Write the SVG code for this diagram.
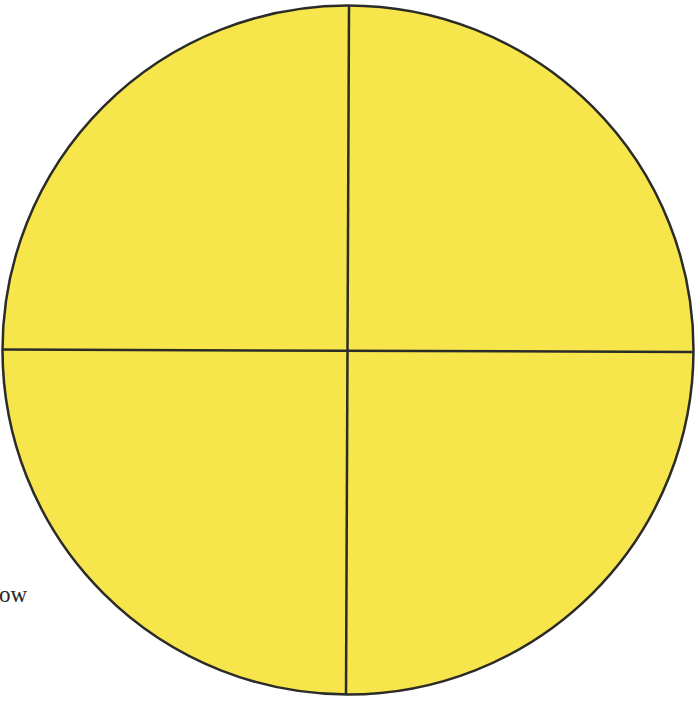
<svg xmlns="http://www.w3.org/2000/svg" width="697" height="702" viewBox="0 0 697 702">
<style>
.ln{stroke:#2b2b28;stroke-width:2.5;fill:none}
.t{font-family:"Liberation Serif",serif;font-size:23px;fill:#262626}
</style>
<rect width="697" height="702" fill="#ffffff"/>
<g id="disc">
<ellipse cx="348" cy="350" rx="345.5" ry="344.5" class="ln" style="fill:#f6e64c"/>
</g>
<g id="connectors">
<line class="ln" x1="349" y1="5.5" x2="346" y2="694.5"/>
<line class="ln" x1="2.5" y1="349.5" x2="693.5" y2="352"/>
</g>
<text class="t" x="-1" y="602">ow</text>
</svg>
